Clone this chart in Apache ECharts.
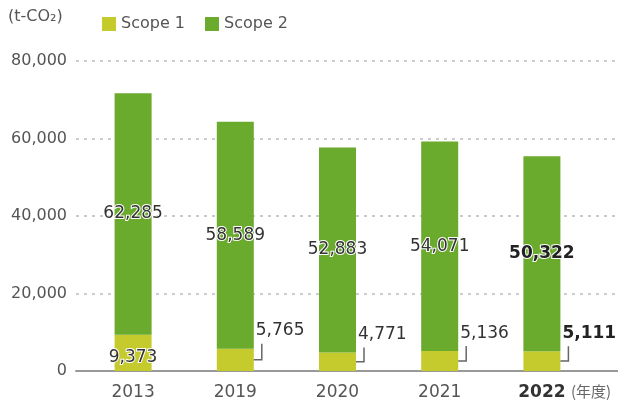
<!DOCTYPE html>
<html>
<head>
<meta charset="utf-8">
<script src="https://cdn.jsdelivr.net/npm/echarts@6/dist/echarts.min.js"></script>
<style>
  html, body {margin: 0; padding: 0; background: #fff;}
  #main {width: 618px; height: 408px;}
</style>
</head>
<body>
<div id="main"></div>
<script>
// 年度
var years = ['2013', '2019', '2020', '2021', '2022'];
// Scope 1 / Scope 2 (t-CO2)
var scope1 = [9373, 5765, 4771, 5136, 5111];
var scope2 = [62285, 58589, 52883, 54071, 50322];
var yTicks = [0, 20000, 40000, 60000, 80000];

var FONT = '"DejaVu Sans", "Noto Sans CJK JP", sans-serif';
var CJK = '"Noto Sans CJK JP", sans-serif';
var fmt = function (v) { return Number(v).toLocaleString('en-US'); };
var last = years.length - 1;

var chart = echarts.init(document.getElementById('main'));
chart.setOption({
    animation: false,
    textStyle: {fontFamily: FONT},
    legend: {
        left: 97,
        top: 11,
        icon: 'rect',
        itemWidth: 14,
        itemHeight: 14,
        itemGap: 20,
        textStyle: {fontSize: 16, color: '#555', fontFamily: FONT},
        data: ['Scope 1', 'Scope 2']
    },
    graphic: [
        {type: 'text', left: 8, top: 9, style: {text: '(t-CO₂)', fontSize: 16, fill: '#555', fontFamily: FONT}},
        {type: 'text', left: 571, top: 384, style: {text: '(年度)', fontSize: 15, fill: '#666', fontFamily: CJK}}
    ],
    grid: [
        // 目盛・補助線用
        {left: 76, right: 0, top: 61, bottom: 37},
        // 棒グラフ用
        {left: 82, right: 25, top: 61, bottom: 37}
    ],
    xAxis: [
        {
            gridIndex: 0, type: 'category', data: [''],
            axisLine: {lineStyle: {color: '#999', width: 2}},
            axisTick: {show: false}, axisLabel: {show: false}
        },
        {
            gridIndex: 1, type: 'category', data: years,
            axisLine: {show: false}, axisTick: {show: false},
            axisLabel: {
                interval: 0, margin: 13, fontSize: 17, color: '#555', fontFamily: FONT,
                formatter: function (v, i) { return i === last ? '{b|' + v + '}' : v; },
                rich: {b: {fontSize: 17, fontWeight: 'bold', color: '#333', fontFamily: FONT}}
            }
        }
    ],
    yAxis: [
        {
            gridIndex: 0, type: 'value', min: yTicks[0], max: yTicks[yTicks.length - 1], interval: yTicks[1] - yTicks[0],
            axisLine: {show: false}, axisTick: {show: false},
            axisLabel: {margin: 9, fontSize: 16, color: '#555', fontFamily: FONT, formatter: fmt},
            splitLine: {lineStyle: {color: '#ccc', width: 2, type: [3, 5]}}
        },
        {
            gridIndex: 1, type: 'value', min: yTicks[0], max: yTicks[yTicks.length - 1],
            show: false
        }
    ],
    series: [
        {
            name: 'Scope 1', type: 'bar', stack: 'co2',
            xAxisIndex: 1, yAxisIndex: 1,
            barWidth: 37,
            itemStyle: {color: '#c5cb2c'},
            data: scope1.map(function (v, i) {
                return i === 0 ? {
                    value: v,
                    label: {
                        show: true, position: 'insideBottom', distance: 5,
                        fontSize: 17, color: '#333', textBorderColor: '#fff', textBorderWidth: 2,
                        fontFamily: FONT, formatter: function (p) { return fmt(p.value); }
                    }
                } : v;
            })
        },
        {
            name: 'Scope 2', type: 'bar', stack: 'co2',
            xAxisIndex: 1, yAxisIndex: 1,
            barWidth: 37,
            itemStyle: {color: '#6aaa2c'},
            label: {
                show: true, position: 'inside',
                fontSize: 17, color: '#333', textBorderColor: '#fff', textBorderWidth: 2,
                fontFamily: FONT,
                formatter: function (p) { return fmt(p.value); }
            },
            data: scope2.map(function (v, i) {
                return i === last ? {value: v, label: {fontWeight: 'bold', color: '#222'}} : v;
            })
        },
        {
            // Scope 1 の引き出し線とラベル
            type: 'custom',
            xAxisIndex: 1, yAxisIndex: 1,
            silent: true, z: 5,
            data: scope1.map(function (v, i) { return [i, v]; }),
            renderItem: function (params, api) {
                var idx = api.value(0);
                if (idx === 0) return null;
                var v = api.value(1);
                var base = api.coord([idx, 0]);
                var top = api.coord([idx, v]);
                var x = base[0] + 18.5;
                var mid = (base[1] + top[1]) / 2;
                return {
                    type: 'group',
                    children: [
                        {
                            type: 'polyline',
                            shape: {points: [[x, mid], [x + 8, mid], [x + 8, top[1] - 5]]},
                            style: {stroke: '#666', lineWidth: 1.5, fill: null}
                        },
                        {
                            type: 'text',
                            x: x + 2, y: top[1] - 18,
                            style: {
                                text: fmt(v), fontSize: 17, fontFamily: FONT,
                                fontWeight: idx === last ? 'bold' : 'normal',
                                fill: idx === last ? '#222' : '#333',
                                verticalAlign: 'middle', align: 'left'
                            }
                        }
                    ]
                };
            }
        }
    ]
});
</script>
</body>
</html>
